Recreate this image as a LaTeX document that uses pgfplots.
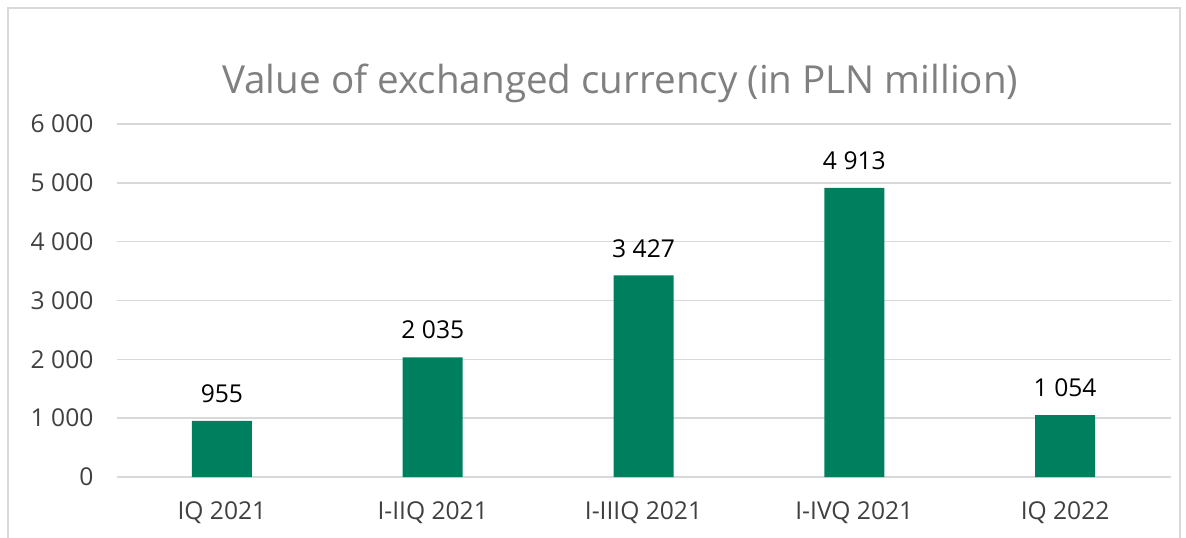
\documentclass[border=0pt]{standalone}
\usepackage{pgfplots}
\pgfplotsset{compat=1.18}
\usepackage{fontspec}
\setmainfont{Open Sans}
\definecolor{barg}{RGB}{0,127,95}
\definecolor{gridc}{RGB}{217,217,217}
\definecolor{tickc}{RGB}{64,64,64}
\definecolor{titc}{RGB}{128,128,128}
\newcommand{\tsep}{\hspace{0.27em}}
\begin{document}
\begin{tikzpicture}
\useasboundingbox (-58.25pt,-30pt) rectangle (534.75pt,238.5pt);
\draw[gridc, line width=0.75pt] (-54.25pt,-40pt) rectangle (531.75pt,234.5pt);
\begin{axis}[
  at={(0,0)}, anchor=south west,
  scale only axis, width=527pt, height=176.5pt,
  xmin=-0.5, xmax=4.5, ymin=0, ymax=6000,
  xtick=data,
  xticklabels={IQ 2021, I-IIQ 2021, I-IIIQ 2021, I-IVQ 2021, IQ 2022},
  ytick={0,1000,...,6000},
  axis line style={draw=none},
  ymajorgrids, grid style={gridc, line width=0.75pt},
  major tick length=0pt,
  tick label style={font=\fontsize{12.3}{14}\selectfont, text=tickc},
  yticklabel style={xshift=-8pt},
  xticklabel style={yshift=-9pt},
  /pgf/number format/assume math mode=true,
  /pgf/number format/1000 sep={\tsep},
  scaled y ticks=false,
  ybar, bar width=30pt,
  nodes near coords,
  nodes near coords style={font=\fontsize{12.3}{14}\selectfont, text=black, yshift=5.5pt},
  title={Value of exchanged currency (in PLN million)},
  title style={font=\fontsize{19.3}{22}\selectfont, text=titc, at={(0.478,1)}, anchor=center, yshift=14.5pt},
  clip=false,
]
\addplot[fill=barg, draw=none] coordinates {(0,955) (1,2035) (2,3427) (3,4913) (4,1054)};
\end{axis}
\end{tikzpicture}
\end{document}
